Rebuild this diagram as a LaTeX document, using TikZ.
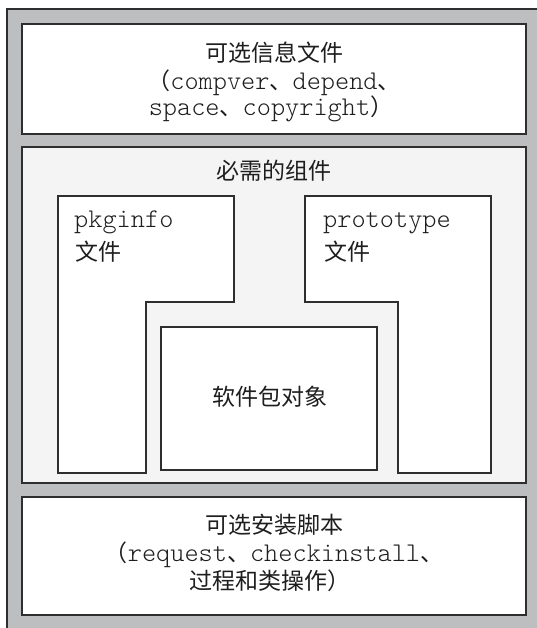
\documentclass[tikz,border=0pt]{standalone}
\usepackage{fontspec}
\setmainfont{Noto Sans CJK SC}
\newfontfamily\cjk{Noto Sans CJK SC}
\newfontfamily\monofam[Extension=.otf]{lmmonolt10-regular}
\newcommand{\mn}[1]{{\monofam\fontsize{27}{30}\selectfont #1}}
\definecolor{outergray}{HTML}{BDBEC0}
\definecolor{midgray}{HTML}{F4F4F4}
\definecolor{edge}{HTML}{2E2E2E}
\definecolor{ink}{HTML}{1E1E1E}
\begin{document}
\begin{tikzpicture}[x=1pt,y=-1pt,
  boxline/.style={draw=edge, line width=1.6pt},
  txt/.style={inner sep=0pt, text=ink, font=\fontsize{23}{26}\selectfont\cjk, anchor=base},
  ltxt/.style={txt, anchor=base west}]
\useasboundingbox (0,0) rectangle (536,628);
% outer frame
\fill[outergray] (7,9) rectangle (545,640);
\draw[edge, line width=1.5pt] (7,9) -- (545,9);
\draw[edge, line width=2.5pt] (7,8.25) -- (7,640);
% top box
\draw[boxline, fill=white] (22,24) rectangle (526,134);
\node[txt] (infotitle) at (274,61.5) {可选信息文件};
\node[txt] (infol2) at (274,89.5) {（\mn{compver}、\mn{depend}、};
\node[txt] (infol3) at (271,115.5) {\mn{space}、\mn{copyright}）};
% middle box
\draw[boxline, fill=midgray] (22,147) rectangle (526,483);
\node[txt] (reqtitle) at (274,179.5) {必需的组件};
\draw[boxline, fill=white] (58,196) -- (234,196) -- (234,302) -- (146,302) -- (146,473) -- (58,473) -- cycle;
\node[ltxt] (pkginfo) at (74,227) {\mn{pkginfo}};
\node[ltxt] (pkgfile) at (75,260) {文件};
\draw[boxline, fill=white] (305,196) -- (491,196) -- (491,473) -- (398,473) -- (398,302) -- (305,302) -- cycle;
\node[ltxt] (proto) at (323,227) {\mn{prototype}};
\node[ltxt] (protofile) at (324,260) {文件};
\draw[boxline, fill=white] (161,327) rectangle (377,470);
\node[txt] (pkgobj) at (270,405.5) {软件包对象};
% bottom box
\draw[boxline, fill=white] (22,497) rectangle (526,615);
\node[txt] (insttitle) at (274,533.5) {可选安装脚本};
\node[txt] (instl2) at (274,561.5) {（\mn{request}、\mn{checkinstall}、};
\node[txt] (instl3) at (270,589.5) {过程和类操作）};
\end{tikzpicture}
\end{document}
